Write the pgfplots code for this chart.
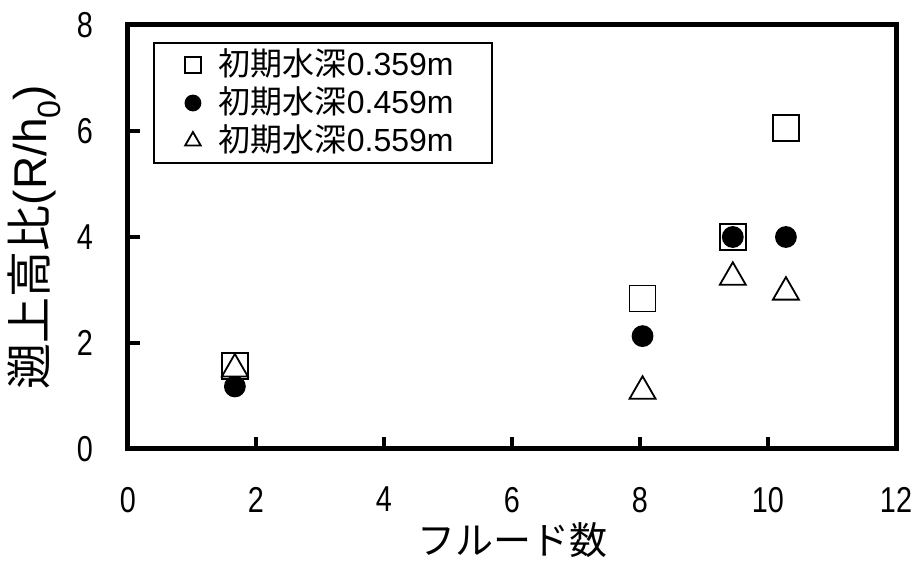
\documentclass[border=0pt]{standalone}
\usepackage{fontspec}
\setmainfont{Liberation Sans}
\newfontfamily\narrow{Liberation Sans}[FakeStretch=0.8]
\newfontfamily\jp{Noto Sans CJK JP}
\usepackage{pgfplots}
\usepackage{pgfplotstable}
\pgfplotsset{compat=1.18}

% initial depth 0.359 m
\pgfplotstableread{
x y
1.67 1.57
8.04 2.84
9.45 4.00
10.28 6.05
}\depthA
% initial depth 0.459 m
\pgfplotstableread{
x y
1.67 1.18
8.04 2.13
9.45 4.00
10.28 4.00
}\depthB
% initial depth 0.559 m
\pgfplotstableread{
x y
1.67 1.51
8.04 1.09
9.45 3.24
10.28 2.96
}\depthC

\pgfplotsset{
  legmark/.style={legend image code/.code={%
    \path (0pt,0pt) (63pt,0pt);
    \draw[mark size=#1] plot coordinates {(38pt,0pt)};}},
}

\begin{document}
\begin{tikzpicture}
\begin{axis}[
  scale only axis,
  width=768pt, height=424pt,
  xmin=0, xmax=12, ymin=0, ymax=8,
  xtick={0,2,...,12}, ytick={0,2,...,8},
  tick pos=left, tick align=inside,
  major tick length=12pt,
  axis line style={line width=5pt},
  tick style={black, line width=3.5pt},
  /pgf/number format/assume math mode=true,
  tick label style={font=\narrow\fontsize{36}{38}\selectfont},
  xticklabel style={inner sep=0pt, yshift=-38pt},
  yticklabel style={inner sep=0pt, xshift=-35pt},
  xlabel={\jp フルード数},
  xlabel style={font=\fontsize{38}{40}\selectfont, at={(axis description cs:0.5,0)}, anchor=center, yshift=-91pt},
  ylabel={{\jp 遡上高比}(R/h\textsubscript{0})},
  ylabel style={font=\fontsize{46}{48}\selectfont, at={(axis description cs:0,0.5)}, anchor=center, yshift=94pt},
  legend cell align=left,
  legend style={at={(axis description cs:0.0339,0.9575)}, anchor=north west,
    draw=black, line width=2pt, inner xsep=0pt, inner ysep=3pt, outer sep=0pt,
    font=\fontsize{32}{34}\selectfont,
    nodes={inner sep=0pt, text height=29pt, text depth=9pt}},
]
\addplot[only marks, mark=square*, mark size=13pt, line width=1.8pt,
  mark options={draw=black, fill=white}, legmark=8pt] table {\depthA};
\addlegendentry{{\jp 初期水深}0.359m\kern38pt}
\addplot[only marks, mark=*, mark size=10pt, line width=1.8pt,
  mark options={draw=black, fill=black}, legmark=7.5pt] table {\depthB};
\addlegendentry{{\jp 初期水深}0.459m\kern38pt}
\addplot[only marks, mark=triangle*, mark size=15pt, line width=1.8pt,
  mark options={draw=black, fill=white}, legmark=9pt] table {\depthC};
\addlegendentry{{\jp 初期水深}0.559m\kern38pt}
\end{axis}
\path (current axis.south west) ++(-128pt,-115pt) rectangle (current axis.north east) ++(20pt,25pt);
\end{tikzpicture}
\end{document}
